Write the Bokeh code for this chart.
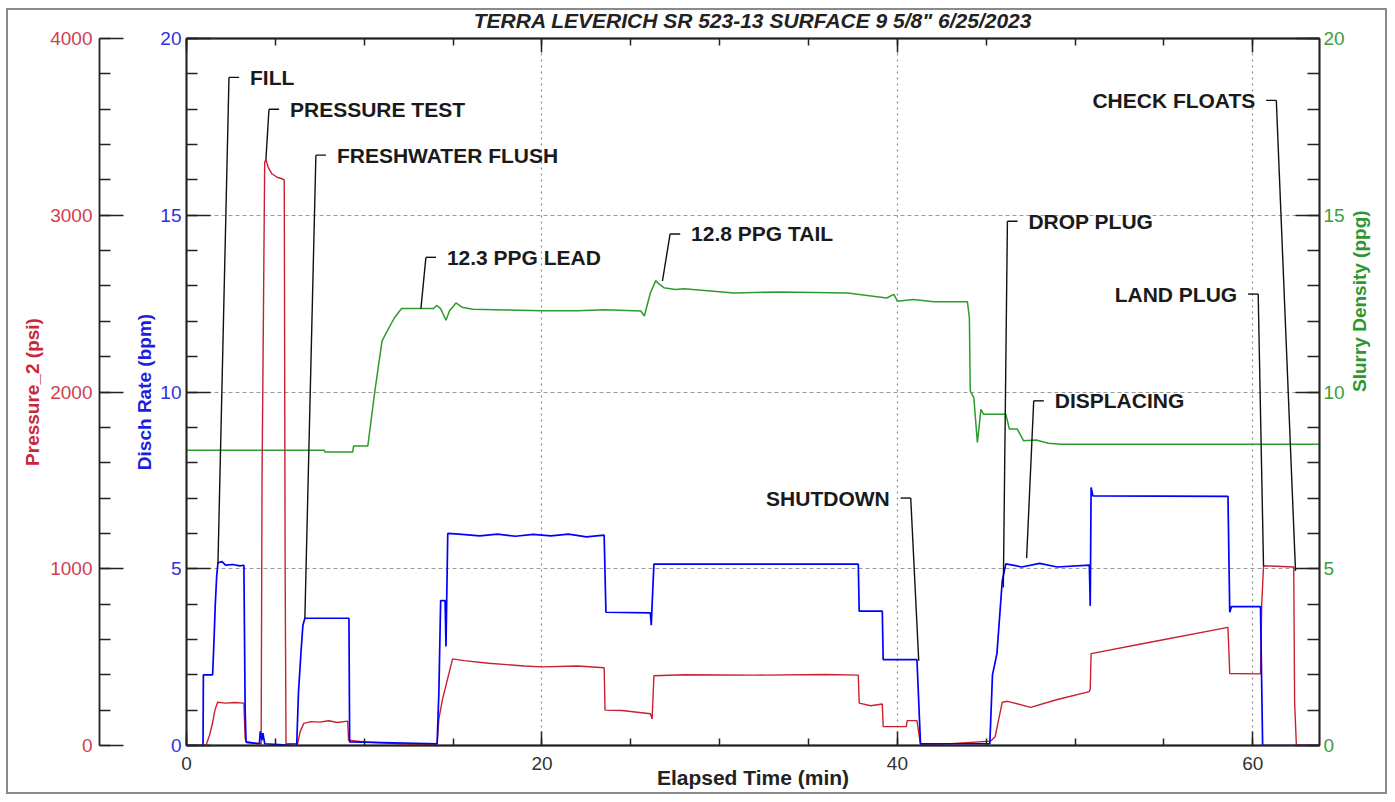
import math
from bokeh.plotting import figure
from bokeh.models import (LinearAxis, Range1d, SingleIntervalTicker, FixedTicker,
                          ColumnDataSource, InlineStyleSheet)
from bokeh.core.properties import value
from bokeh.embed import file_html
from bokeh.resources import INLINE

# ---------------- data ----------------
# Disch Rate (bpm)
rate_t = [0, 0.93, 0.95, 1.47, 1.55, 1.62, 1.70, 1.77, 2.0, 2.2, 2.6, 3.0, 3.23, 3.30, 3.35,
          4.10, 4.15, 4.25, 4.30, 4.40, 6.20, 6.30, 6.45, 6.55, 6.66, 9.14, 9.18, 14.10,
          14.20, 14.30, 14.55, 14.60, 14.70, 15.5, 16.5, 17.5, 18.5, 19.5, 20.5, 21.5, 22.5,
          23.5, 23.60, 26.10, 26.15, 26.20, 26.30, 37.80, 37.85, 39.15, 39.20, 41.10, 41.30,
          45.20, 45.35, 45.60, 45.90, 46.10, 47.0, 48.0, 49.0, 50.80, 50.85, 50.90, 51.00,
          58.60, 58.70, 58.80, 60.43, 60.55, 63.75]
rate_v = [0, 0, 2.0, 2.0, 3.0, 4.0, 4.8, 5.17, 5.2, 5.1, 5.12, 5.08, 5.1, 1.0, 0.1,
          0.05, 0.4, 0.15, 0.35, 0.05, 0.0, 1.5, 2.7, 3.4, 3.6, 3.6, 0.1, 0.05,
          1.5, 4.1, 4.1, 2.8, 6.0, 5.97, 5.93, 5.98, 5.92, 5.97, 5.93, 5.98, 5.9,
          5.95, 3.77, 3.75, 3.4, 4.0, 5.13, 5.13, 3.8, 3.8, 2.43, 2.43, 0.05,
          0.05, 2.0, 2.6, 4.66, 5.14, 5.05, 5.15, 5.05, 5.1, 3.95, 7.3, 7.06,
          7.05, 3.77, 3.93, 3.93, 0.0, 0.0]

# Pressure_2 (psi)
press_t = [0, 1.10, 1.30, 1.45, 1.60, 1.75, 2.2, 2.7, 3.23, 3.30, 3.40, 4.20, 4.25, 4.40,
           4.47, 4.60, 4.80, 5.10, 5.41, 5.50, 5.55, 5.60, 6.25, 6.40, 6.60, 7.0, 7.5, 8.0,
           8.5, 9.07, 9.12, 10.0, 12.0, 14.10, 14.20, 14.40, 14.97, 15.6, 17.0, 19.0, 20.0,
           22.0, 23.5, 23.55, 24.5, 26.10, 26.20, 26.30, 28.0, 32.0, 36.0, 37.80, 37.85,
           38.5, 39.15, 39.20, 40.50, 40.55, 41.10, 41.30, 43.0, 45.25, 45.50, 45.90,
           46.20, 47.50, 49.0, 50.80, 50.85, 50.90, 54.0, 58.60, 58.70, 60.43, 60.50,
           60.60, 62.30, 62.35, 62.45, 63.75]
press_v = [0, 0, 60, 120, 200, 245, 240, 243, 240, 40, 15, 10, 1500, 3300,
           3316, 3270, 3235, 3215, 3205, 3200, 1000, 10, 10, 80, 125, 135, 132, 140,
           130, 138, 30, 20, 10, 5, 150, 260, 490, 480, 465, 450, 445,
           450, 440, 200, 198, 180, 150, 395, 400, 398, 402, 398, 240,
           225, 235, 107, 107, 141, 141, 5, 10, 25, 50, 245,
           250, 216, 260, 305, 320, 520, 580, 668, 407, 405, 800,
           1017, 1010, 245, 0, 0]

# Slurry Density (ppg)
dens_t = [0, 7.75, 7.80, 9.35, 9.40, 10.2, 10.6, 11.0, 11.2, 11.7, 12.1, 13.9, 14.07, 14.3,
          14.6, 14.8, 15.16, 15.5, 16.1, 18.0, 20.0, 22.0, 23.5, 25.56, 25.76, 26.1, 26.4,
          26.6, 26.86, 27.5, 28.0, 30.8, 33.4, 37.2, 39.4, 39.8, 40.0, 40.9, 42.05, 43.94,
          44.05, 44.1, 44.3, 44.5, 44.7, 44.85, 46.1, 46.3, 46.75, 47.1, 47.8, 48.5, 49.2,
          63.75]
dens_v = [8.35, 8.35, 8.3, 8.3, 8.47, 8.47, 10.03, 11.44, 11.64, 12.1, 12.36, 12.36, 12.45,
          12.36, 12.03, 12.3, 12.52, 12.4, 12.34, 12.32, 12.3, 12.3, 12.33, 12.29, 12.15,
          12.8, 13.15, 13.05, 12.95, 12.9, 12.92, 12.8, 12.83, 12.8, 12.66, 12.76, 12.57,
          12.62, 12.55, 12.55, 12.1, 10.03, 9.84, 8.57, 9.51, 9.37, 9.37, 8.95, 8.95, 8.62,
          8.64, 8.55, 8.52, 8.52]

# event callouts: label, top of leader (min, bpm-scale), anchor point, text side
event_text = ["FILL", "PRESSURE TEST", "FRESHWATER FLUSH", "12.3 PPG LEAD", "12.8 PPG TAIL",
              "SHUTDOWN", "DROP PLUG", "DISPLACING", "LAND PLUG", "CHECK FLOATS"]
event_top_t = [2.39, 4.64, 7.28, 13.47, 27.21, 40.75, 46.19, 47.67, 60.30, 61.32]
event_top_v = [18.9, 18.0, 16.7, 13.81, 14.47, 7.0, 14.83, 9.75, 12.77, 18.25]
event_anchor_t = [1.77, 4.47, 6.66, 13.19, 26.78, 41.2, 45.96, 47.27, 60.6, 62.4]
event_anchor_v = [5.14, 16.58, 3.6, 12.36, 13.14, 2.4, 4.47, 5.3, 5.08, 4.94]
event_side = ["R", "R", "R", "R", "R", "L", "R", "R", "L", "L"]

title_text = 'TERRA LEVERICH SR 523-13 SURFACE 9 5/8" 6/25/2023'
x_label = "Elapsed Time (min)"
rate_label = "Disch Rate (bpm)"
press_label = "Pressure_2 (psi)"
dens_label = "Slurry Density (ppg)"

# ---------------- styling ----------------
FONT = "Liberation Sans"
RED_LINE = "#c8202f"
BLUE_LINE = "#0000ff"
GREEN_LINE = "#2e9b2e"
RED_TXT = "#d0404e"
BLUE_TXT = "#3030e0"
GREEN_TXT = "#3c9e3c"
AX = "#222222"

p = figure(width=1387, height=794, output_backend="svg", toolbar_location=None,
           x_range=Range1d(0, 63.75), y_range=Range1d(0, 20),
           min_border_left=186, min_border_right=68, min_border_top=37,
           min_border_bottom=49, background_fill_color="white",
           border_fill_color="white", outline_line_color=AX, outline_line_width=1.5)
p.stylesheets = [InlineStyleSheet(css=(
    ":host::after{content:'';position:absolute;left:6px;top:8px;right:0px;bottom:0px;"
    "border:2px solid #8a8a8a;pointer-events:none;z-index:10;}"))]

p.extra_y_ranges = {"press": Range1d(0, 4000), "dens": Range1d(0, 20)}

p.title.text = title_text
p.title.align = "center"
p.title.text_font = FONT
p.title.text_font_size = "21px"
p.title.text_font_style = "bold italic"
p.title.text_color = "#222222"
p.title.standoff = 13

xt = SingleIntervalTicker(interval=20, num_minor_ticks=4)
yt = SingleIntervalTicker(interval=5, num_minor_ticks=5)


def style_axis(ax, color, label_color, tick_in, minor_in):
    ax.axis_line_color = AX
    ax.axis_line_width = 1.8
    ax.major_tick_line_color = AX
    ax.minor_tick_line_color = AX
    ax.major_tick_line_width = 1.5
    ax.minor_tick_line_width = 1.5
    ax.major_tick_in = tick_in
    ax.major_tick_out = 0
    ax.minor_tick_in = minor_in
    ax.minor_tick_out = 0
    ax.major_label_text_font = FONT
    ax.major_label_text_font_size = "19px"
    ax.major_label_text_color = color
    ax.axis_label_text_font = FONT
    ax.axis_label_text_font_size = "19px"
    ax.axis_label_text_font_style = "bold"
    ax.axis_label_text_color = label_color


# bottom x axis
xa = p.xaxis[0]
xa.ticker = xt
style_axis(xa, "#333333", "#222222", 14, 7)
xa.axis_label = x_label
xa.axis_label_text_font_size = "21px"
xa.major_label_standoff = 11
xa.axis_label_standoff = -7

# top x axis (ticks only)
top = LinearAxis(ticker=SingleIntervalTicker(interval=20, num_minor_ticks=4))
style_axis(top, "#333333", "#222222", 14, 7)
top.major_label_text_color = None
top.major_label_text_font_size = "1px"
top.major_label_standoff = 0
p.add_layout(top, "above")

# blue rate axis (innermost left)
ya = p.yaxis[0]
ya.ticker = yt
style_axis(ya, BLUE_TXT, "#1e1ee0", 24, 11)
ya.axis_label = rate_label
ya.major_label_standoff = 5
ya.axis_label_standoff = 2

# spacer between the two left axes (one white tick gives it its width)
spacer = LinearAxis(ticker=FixedTicker(ticks=[19.5]), axis_line_color=None,
                    major_tick_line_color="white", major_tick_line_width=0.5,
                    minor_tick_line_color=None,
                    major_tick_out=32, major_tick_in=0, minor_tick_out=0, minor_tick_in=0,
                    major_label_text_color=None, major_label_text_font_size="1px",
                    major_label_overrides={19.5: ""}, major_label_standoff=0)
p.add_layout(spacer, "left")

# red pressure axis (outer left)
ra = LinearAxis(y_range_name="press",
                ticker=SingleIntervalTicker(interval=1000, num_minor_ticks=5))
style_axis(ra, RED_TXT, "#c82838", 24, 11)
ra.axis_label = press_label
ra.major_label_standoff = 7
ra.axis_label_standoff = 4
p.add_layout(ra, "left")

# green density axis (right)
ga = LinearAxis(y_range_name="dens",
                ticker=SingleIntervalTicker(interval=5, num_minor_ticks=5))
style_axis(ga, GREEN_TXT, "#2e962e", 24, 12)
ga.axis_label = dens_label
ga.major_label_standoff = 4
ga.axis_label_standoff = 12
ga.axis_label_orientation = math.pi / 2
p.add_layout(ga, "right")

# grids
p.xgrid.ticker = xt
p.xgrid.grid_line_color = "#8c8c8c"
p.xgrid.grid_line_dash = "2 4"
p.xgrid.grid_line_width = 1.2
p.ygrid.ticker = yt
p.ygrid.grid_line_color = "#9a9a9a"
p.ygrid.grid_line_dash = "4 3"
p.ygrid.grid_line_width = 1.2

# ---------------- traces ----------------
p.line(dens_t, dens_v, y_range_name="dens", line_color=GREEN_LINE, line_width=1.5)
p.line(press_t, press_v, y_range_name="press", line_color=RED_LINE, line_width=1.4)
p.line(rate_t, rate_v, line_color=BLUE_LINE, line_width=1.7)

# ---------------- callouts ----------------
HOOK = 0.57  # minutes (~10 px)
hook_end = [t + HOOK if s == "R" else t - HOOK for t, s in zip(event_top_t, event_side)]
src = ColumnDataSource(dict(
    text=event_text, tt=event_top_t, tv=event_top_v, at=event_anchor_t, av=event_anchor_v,
    he=hook_end,
    xo=[21 if s == "R" else -21 for s in event_side],
    align=["left" if s == "R" else "right" for s in event_side],
))
p.segment(x0="tt", y0="tv", x1="at", y1="av", source=src, line_color="#111111",
          line_width=1.4)
p.segment(x0="tt", y0="tv", x1="he", y1="tv", source=src, line_color="#111111",
          line_width=1.4)
p.text(x="tt", y="tv", text="text", source=src, x_offset="xo", text_align="align",
       text_baseline="middle", text_font=value(FONT), text_font_size="21px",
       text_font_style="bold", text_color="#1a1a1a")

open("out.html", "w").write(file_html(p, INLINE))
